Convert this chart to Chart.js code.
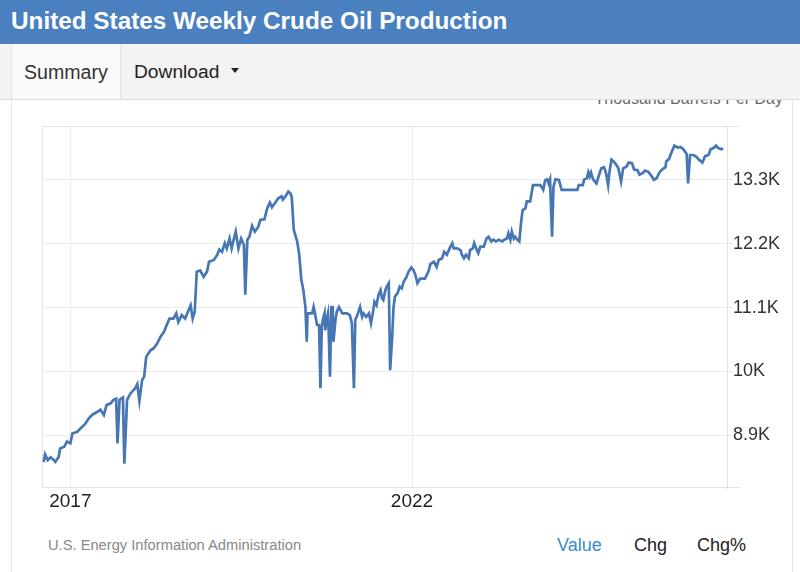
<!DOCTYPE html>
<html>
<head>
<meta charset="utf-8">
<script src="https://cdn.jsdelivr.net/npm/chart.js@4"></script>
<style>
  body { margin: 0; width: 800px; height: 572px; background: #fff; font-family: "Liberation Sans", Arial, sans-serif; overflow: hidden; position: relative; }
  .header { position: absolute; left: 0; top: 0; width: 800px; height: 44px; background: #4b80c0; color: #fff; font-weight: bold; font-size: 24.3px; line-height: 42px; padding-left: 11px; box-sizing: border-box; z-index: 3; }
  .tabs { position: absolute; left: 0; top: 44px; width: 800px; height: 55px; background: #f3f3f3; border-bottom: 1px solid #dcdcdc; z-index: 3; }
  .tab { position: absolute; top: 0; height: 55px; line-height: 56px; font-size: 19.6px; color: #333; }
  .tab.active { left: 11px; width: 110px; background: #fafafa; border-left: 1px solid #e2e2e2; border-right: 1px solid #e2e2e2; box-sizing: border-box; padding-left: 12px; }
  .tab.drop { left: 134px; color: #222; font-size: 19.2px; }
  .caret { display: inline-block; margin-left: 12px; vertical-align: middle; width: 0; height: 0; border-left: 4px solid transparent; border-right: 4px solid transparent; border-top: 5px solid #222; position: relative; top: -2px; }
  .panel { position: absolute; left: 11px; top: 100px; width: 780px; height: 472px; border-left: 1px solid #e6e6e6; border-right: 1px solid #e6e6e6; }
  .unit { position: absolute; right: 17px; top: 90px; font-size: 16px; color: #666; z-index: 1; }
  .chart-box { position: absolute; left: 0; top: 101px; width: 800px; height: 420px; z-index: 2; }
  .source { position: absolute; left: 48px; top: 537px; font-size: 14.7px; color: #888; }
  .views { position: absolute; top: 535px; font-size: 18px; color: #222; }
</style>
</head>
<body>
<div class="header">United States Weekly Crude Oil Production</div>
<div class="tabs">
  <div class="tab active">Summary</div>
  <div class="tab drop">Download<span class="caret"></span></div>
</div>
<div class="unit">Thousand Barrels Per Day</div>
<div class="panel"></div>
<div class="chart-box"><canvas id="oil-chart"></canvas></div>
<div class="source">U.S. Energy Information Administration</div>
<div class="views" style="left:557px;color:#3d8ccb;">Value</div>
<div class="views" style="left:634px;">Chg</div>
<div class="views" style="left:697px;">Chg%</div>

<script>
// weekly readings, decimal year
const weeks = [
  2016.61, 2016.63, 2016.67, 2016.71, 2016.75, 2016.78, 2016.83, 2016.85, 2016.91, 2016.95,
  2017.00, 2017.03, 2017.10, 2017.17, 2017.22, 2017.27, 2017.32, 2017.39, 2017.44, 2017.49,
  2017.53, 2017.59, 2017.63, 2017.67, 2017.69, 2017.72, 2017.77, 2017.79, 2017.83, 2017.88,
  2017.95, 2017.98, 2018.01, 2018.05, 2018.08, 2018.11, 2018.17, 2018.22, 2018.27, 2018.32,
  2018.37, 2018.40, 2018.45, 2018.51, 2018.55, 2018.58, 2018.63, 2018.68, 2018.72, 2018.76,
  2018.79, 2018.82, 2018.85, 2018.90, 2018.95, 2019.00, 2019.03, 2019.10, 2019.15, 2019.18,
  2019.22, 2019.26, 2019.29, 2019.33, 2019.36, 2019.39, 2019.42, 2019.46, 2019.50, 2019.54,
  2019.56, 2019.59, 2019.62, 2019.66, 2019.70, 2019.75, 2019.78, 2019.84, 2019.88, 2019.92,
  2019.95, 2020.00, 2020.04, 2020.09, 2020.11, 2020.15, 2020.19, 2020.22, 2020.24, 2020.27,
  2020.32, 2020.35, 2020.38, 2020.41, 2020.44, 2020.46, 2020.47, 2020.54, 2020.56, 2020.58,
  2020.61, 2020.64, 2020.66, 2020.68, 2020.70, 2020.72, 2020.73, 2020.75, 2020.77, 2020.78,
  2020.80, 2020.82, 2020.84, 2020.85, 2020.88, 2020.90, 2020.93, 2020.98, 2021.05, 2021.09,
  2021.12, 2021.15, 2021.17, 2021.20, 2021.24, 2021.27, 2021.29, 2021.33, 2021.37, 2021.40,
  2021.43, 2021.45, 2021.48, 2021.51, 2021.54, 2021.56, 2021.58, 2021.61, 2021.63, 2021.66,
  2021.68, 2021.71, 2021.73, 2021.75, 2021.79, 2021.82, 2021.85, 2021.88, 2021.92, 2021.95,
  2021.99, 2022.02, 2022.05, 2022.08, 2022.12, 2022.19, 2022.24, 2022.27, 2022.32, 2022.36,
  2022.39, 2022.44, 2022.47, 2022.51, 2022.55, 2022.59, 2022.61, 2022.66, 2022.71, 2022.73,
  2022.76, 2022.79, 2022.83, 2022.85, 2022.89, 2022.91, 2022.95, 2022.97, 2023.00, 2023.05,
  2023.09, 2023.12, 2023.16, 2023.19, 2023.23, 2023.27, 2023.32, 2023.35, 2023.39, 2023.41,
  2023.44, 2023.46, 2023.49, 2023.51, 2023.54, 2023.57, 2023.60, 2023.62, 2023.66, 2023.68,
  2023.73, 2023.77, 2023.88, 2023.92, 2023.95, 2023.98, 2024.00, 2024.02, 2024.05, 2024.07,
  2024.10, 2024.15, 2024.19, 2024.32, 2024.42, 2024.44, 2024.50, 2024.52, 2024.56, 2024.58,
  2024.60, 2024.62, 2024.65, 2024.70, 2024.73, 2024.77, 2024.81, 2024.84, 2024.87, 2024.89,
  2024.92, 2024.95, 2024.99, 2025.02, 2025.06, 2025.09, 2025.14, 2025.17, 2025.22, 2025.25,
  2025.30, 2025.33, 2025.38, 2025.41, 2025.46, 2025.51, 2025.54, 2025.58, 2025.62, 2025.66,
  2025.71, 2025.72, 2025.76, 2025.81, 2025.84, 2025.89, 2025.93, 2025.97, 2026.02, 2026.04,
  2026.07, 2026.12, 2026.16, 2026.20, 2026.25, 2026.29, 2026.34, 2026.37, 2026.41, 2026.45,
  2026.48, 2026.53, 2026.55
];

// thousand barrels per day
const production = [
  8440, 8570, 8470, 8520, 8480, 8440, 8530, 8670, 8700, 8790,
  8760, 8930, 8960, 9040, 9100, 9190, 9250, 9300, 9340, 9250,
  9420, 9450, 9510, 9530, 8760, 9510, 9550, 8410, 9510, 9620,
  9710, 9780, 9490, 9850, 9910, 10250, 10360, 10400, 10480, 10600,
  10680, 10770, 10910, 10910, 11000, 10850, 10970, 10910, 11030, 11140,
  10910, 11030, 11720, 11740, 11630, 11720, 11890, 11920, 12010, 12100,
  12060, 12210, 12120, 12290, 12120, 12270, 12410, 12120, 12290, 12180,
  11320, 12270, 12320, 12510, 12410, 12490, 12610, 12620, 12810, 12910,
  12830, 12910, 12980, 13020, 12960, 13020, 13100, 13070, 13000, 12440,
  12240, 12010, 11580, 11400, 11110, 10510, 11000, 11000, 11110, 11000,
  10800, 10800, 9710, 10770, 10910, 11000, 10710, 10890, 11000, 10710,
  9910, 11110, 11110, 10510, 10890, 11030, 11110, 11000, 11000, 10970,
  10830, 9710, 10890, 10970, 11110, 10940, 11000, 10940, 11000, 10830,
  11030, 11200, 11140, 11320, 11400, 11260, 11230, 11400, 11460, 11520,
  10020, 10600, 11110, 11290, 11350, 11460, 11430, 11550, 11630, 11720,
  11790, 11750, 11660, 11520, 11600, 11600, 11720, 11850, 11890, 11800,
  11920, 11950, 12060, 12010, 12120, 12210, 12120, 12120, 12090, 12010,
  11950, 12010, 11950, 12090, 12120, 12210, 12090, 12040, 12150, 12150,
  12290, 12320, 12240, 12270, 12240, 12270, 12240, 12270, 12290, 12380,
  12270, 12410, 12290, 12320, 12270, 12240, 12610, 12780, 12810, 12930,
  12930, 13210, 13210, 13130, 13300, 13310, 13240, 13310, 12320, 13180,
  13310, 13300, 13130, 13130, 13130, 13210, 13210, 13310, 13330, 13430,
  13360, 13430, 13310, 13240, 13360, 13500, 13520, 13420, 13210, 13440,
  13650, 13620, 13560, 13500, 13270, 13500, 13530, 13600, 13590, 13480,
  13470, 13390, 13420, 13460, 13440, 13360, 13300, 13330, 13430, 13480,
  13520, 13620, 13660, 13810, 13890, 13860, 13870, 13830, 13750, 13240,
  13730, 13730, 13700, 13650, 13600, 13710, 13730, 13830, 13850, 13890,
  13850, 13830, 13850
];

const yearTicks = [2017, 2022];
const valueTicks = [8900, 10000, 11100, 12200, 13300];

// light box round the plot, top and bottom run a bit past the axis
const plotFrame = {
  id: "plotFrame",
  beforeDatasetsDraw(chart) {
    const { ctx, chartArea: a } = chart;
    ctx.save();
    ctx.strokeStyle = "#e3e3e3";
    ctx.lineWidth = 1;
    ctx.beginPath();
    ctx.moveTo(a.left + 0.5, a.top);
    ctx.lineTo(a.left + 0.5, a.bottom);
    ctx.moveTo(a.left, a.top + 0.5);
    ctx.lineTo(a.right + 12, a.top + 0.5);
    ctx.moveTo(a.left, a.bottom - 0.5);
    ctx.lineTo(a.right + 13, a.bottom - 0.5);
    ctx.stroke();
    ctx.restore();
  },
};

new Chart(document.getElementById("oil-chart"), {
  type: "line",
  data: {
    datasets: [
      {
        data: weeks.map((w, i) => ({ x: w, y: production[i] })),
        borderColor: "#4677b4",
        borderWidth: 2.7,
        pointRadius: 0,
        tension: 0,
        fill: false,
      },
    ],
  },
  options: {
    responsive: true,
    maintainAspectRatio: false,
    animation: false,
    layout: { padding: { left: 42, top: 25, right: 0, bottom: 0 } },
    plugins: { legend: { display: false }, tooltip: { enabled: false } },
    scales: {
      x: {
        type: "linear",
        min: 2016.585,
        max: 2026.61,
        afterBuildTicks: (s) => { s.ticks = yearTicks.map((v) => ({ value: v })); },
        afterFit: (s) => { s.height = 33; },
        grid: { color: "#ececec", drawTicks: false },
        border: { display: false },
        ticks: {
          padding: 2,
          color: "#222",
          font: { family: "Liberation Sans, Arial", size: 19 },
          callback: (v) => String(v),
        },
      },
      y: {
        position: "right",
        min: 7990,
        max: 14230,
        afterBuildTicks: (s) => { s.ticks = valueTicks.map((v) => ({ value: v })); },
        afterFit: (s) => { s.width = 73; },
        grid: { color: "#ebebeb", tickLength: 6 },
        border: { display: true, color: "#e3e3e3" },
        ticks: {
          padding: 0,
          color: "#333",
          font: { family: "Liberation Sans, Arial", size: 18 },
          callback: (v) => v / 1000 + "K",
        },
      },
    },
  },
  plugins: [plotFrame],
});
</script>
</body>
</html>
